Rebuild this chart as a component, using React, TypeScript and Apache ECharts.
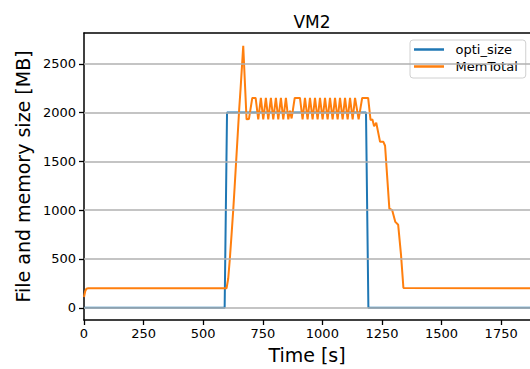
import React, { useEffect, useRef } from "react";
import * as echarts from "echarts";

const xTicks = [0, 250, 500, 750, 1000, 1250, 1500, 1750];
const yTicks = [0, 500, 1000, 1500, 2000, 2500];

const optiTime = [0, 590, 600, 1183, 1193, 1871];
const optiSize = [0, 0, 2000, 2000, 0, 0];

const memTime = [
  0, 5, 10, 18, 598, 605, 612, 619, 626, 632, 638, 645, 651, 657, 668,
  682, 692, 706, 720, 731, 742, 752, 763, 773, 784, 794, 805, 815, 826, 836, 847,
  857, 864, 871, 884, 906,
  917, 927, 938, 948, 959, 969, 980, 990, 1001, 1011, 1022, 1032, 1043, 1053,
  1064, 1074, 1085, 1095, 1106, 1116, 1127, 1137, 1152, 1167, 1192,
  1202, 1210, 1217, 1226, 1242, 1256, 1263, 1281, 1293, 1306, 1318, 1330, 1340, 1871,
];
const memTotal = [
  110, 170, 195, 200, 200, 300, 508, 750, 1000, 1240, 1490, 1780, 2032, 2250, 2683,
  1930, 1935, 2150, 2150, 1930, 2150, 1930, 2150, 1930, 2150, 1930, 2150, 1930, 2150, 1930, 2150,
  1930, 2020, 1940, 2150, 2150,
  1930, 2150, 1930, 2150, 1930, 2150, 1930, 2150, 1930, 2150, 1930, 2150, 1930, 2150,
  1930, 2150, 1930, 2150, 1930, 2150, 1930, 2150, 1930, 2150, 2150,
  1924, 1930, 1860, 1895, 1700, 1700, 1660, 1016, 1000, 880, 850, 540, 203, 200,
];

const FONT = "DejaVu Sans";

export default function App() {
  const ref = useRef<HTMLDivElement>(null);
  useEffect(() => {
    const chart = echarts.init(ref.current as HTMLDivElement, null, { renderer: "svg" });
    chart.setOption({
      animation: false,
      textStyle: { fontFamily: FONT },
      title: {
        text: "VM2",
        left: 307,
        top: 8,
        textAlign: "center",
        textStyle: { fontSize: 17, fontWeight: "normal", color: "#000", fontFamily: FONT },
      },
      grid: { left: 84, top: 33, right: 0, bottom: 47, containLabel: false },
      legend: {
        data: ["opti_size", "MemTotal"],
        orient: "vertical",
        left: 410,
        top: 40,
        icon: "rect",
        itemWidth: 30,
        itemHeight: 2.5,
        itemGap: 4,
        padding: [3, 8, 5, 4],
        borderColor: "#d0d0d0",
        borderWidth: 1,
        borderRadius: 3,
        backgroundColor: "rgba(255,255,255,0.85)",
        formatter: (name: string) => "\u2002" + name,
        textStyle: { fontSize: 13, color: "#000", fontFamily: FONT },
      },
      xAxis: [
        {
          type: "value",
          min: 0,
          max: 1871,
          position: "bottom",
          axisLine: { show: true, onZero: false, lineStyle: { color: "#000", width: 1.5 } },
          axisTick: { show: true, customValues: xTicks, length: 5, lineStyle: { color: "#000", width: 1.3 } },
          axisLabel: {
            customValues: xTicks,
            color: "#000",
            fontSize: 13,
            margin: 7,
            fontFamily: FONT,
            formatter: (v: number) => String(v),
          },
          splitLine: { show: false },
          name: "Time [s]",
          nameLocation: "middle",
          nameGap: 25,
          nameTextStyle: { fontSize: 19, color: "#000", fontFamily: FONT },
        },
        {
          type: "value",
          min: 0,
          max: 1871,
          position: "top",
          axisLine: { show: true, onZero: false, lineStyle: { color: "#000", width: 1.5 } },
          axisTick: { show: false },
          axisLabel: { show: false },
          splitLine: { show: false },
        },
      ],
      yAxis: {
        type: "value",
        min: -125,
        max: 2815,
        axisLine: { show: true, onZero: false, lineStyle: { color: "#000", width: 1.5 } },
        axisTick: { show: true, customValues: yTicks, length: 5, lineStyle: { color: "#000", width: 1.3 } },
        axisLabel: {
          customValues: yTicks,
          color: "#000",
          fontSize: 13,
          margin: 8,
          fontFamily: FONT,
          formatter: (v: number) => String(v),
        },
        splitLine: { show: false },
        name: "File and memory size [MB]",
        nameLocation: "middle",
        nameGap: 31,
        nameTextStyle: { fontSize: 19, color: "#000", fontFamily: FONT },
      },
      series: [
        {
          type: "line",
          name: "_grid",
          data: [],
          z: 1,
          silent: true,
          markLine: {
            silent: true,
            symbol: ["none", "none"],
            label: { show: false },
            lineStyle: { color: "#b0b0b0", width: 1.6, type: "solid" },
            emphasis: { disabled: true },
            data: yTicks.map((v) => ({ yAxis: v })),
          },
        },
        {
          type: "line",
          name: "opti_size",
          data: optiTime.map((t, i) => [t, optiSize[i]]),
          symbol: "none",
          z: 3,
          lineStyle: { color: "#1f77b4", width: 2 },
          itemStyle: { color: "#1f77b4" },
        },
        {
          type: "line",
          name: "MemTotal",
          data: memTime.map((t, i) => [t, memTotal[i]]),
          symbol: "none",
          z: 4,
          lineStyle: { color: "#ff7f0e", width: 2 },
          itemStyle: { color: "#ff7f0e" },
        },
      ],
    });
    return () => chart.dispose();
  }, []);
  return (
    <div
      ref={ref}
      style={{ position: "fixed", left: 0, top: 0, width: 530, height: 369, background: "#fff" }}
    />
  );
}
